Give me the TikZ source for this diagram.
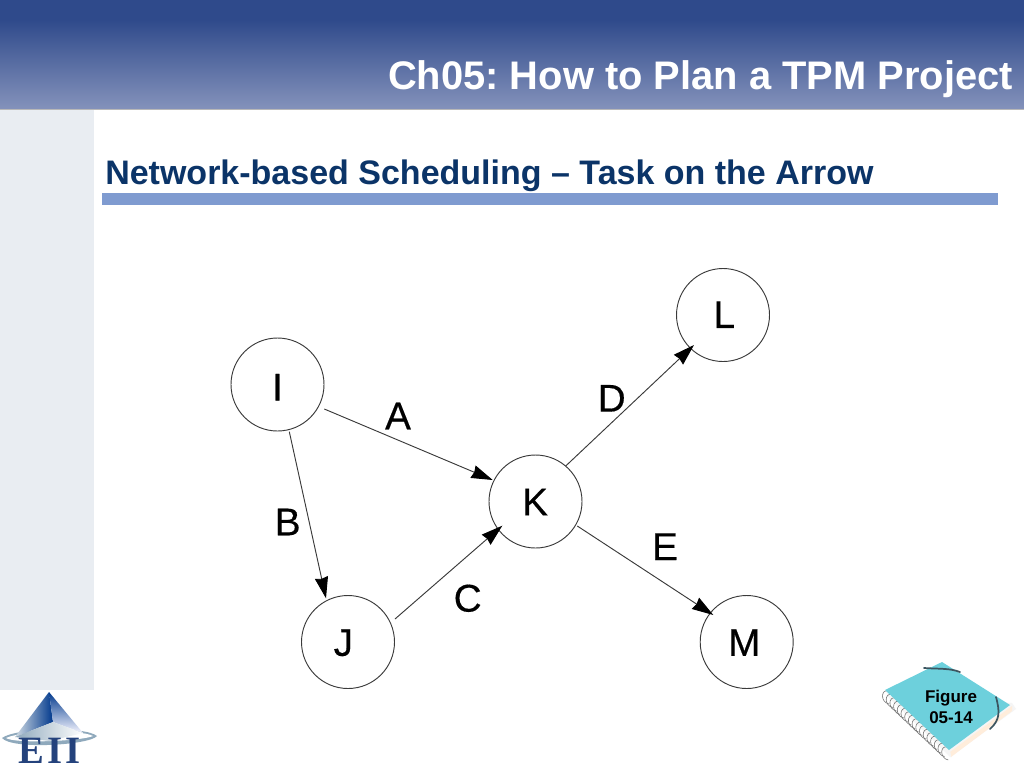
\documentclass[tikz,border=0pt]{standalone}
\usepackage{fontspec}
\setmainfont{Liberation Sans}
\newfontfamily\logoserif{Liberation Serif}
\newfontfamily\diagfont[FakeBold=0.35]{Liberation Sans}
\usetikzlibrary{arrows.meta,calc}
\frenchspacing
\definecolor{headtop}{HTML}{2F4A8B}
\definecolor{headbot}{HTML}{8492BB}
\definecolor{panel}{HTML}{E9EDF2}
\definecolor{rulebar}{HTML}{7F9BD0}
\definecolor{subtitlec}{HTML}{0B3468}
\definecolor{lineg}{HTML}{3A3A3A}
\definecolor{cover}{HTML}{6DD0DC}
\definecolor{logoblue}{HTML}{24427C}
\definecolor{bandc}{HTML}{3C5560}
\definecolor{ringc}{HTML}{8FA9BC}
\newcommand{\lett}[3]{\raisebox{\dimexpr#2-10.4pt\relax}[0pt][0pt]{\makebox[0pt]{\hspace*{\dimexpr 2\dimexpr#1\relax\relax}#3}}}
\tikzset{
  state/.style={circle,draw=lineg,line width=0.7pt,fill=white,minimum size=69.75pt,inner sep=0pt,font=\diagfont\fontsize{29}{29}\selectfont,text=black},
  edgelabel/.style={inner sep=0pt,font=\diagfont\fontsize{29}{29}\selectfont,text=black},
  arr/.style={draw=lineg,line width=0.7pt,-{Stealth[length=16pt,width=10pt,inset=1pt,color=black]}},
  band/.style={draw=bandc,line width=1.3pt,line cap=round},
  coil/.style={draw=black!55,line width=0.45pt}
}
\begin{document}
\begin{tikzpicture}[x=0.75pt,y=-0.75pt]
\useasboundingbox (0,0) rectangle (1024,768);
\fill[white] (0,0) rectangle (1024,768);
% header
\fill[headtop] (0,0) rectangle (1024,20);
\shade[top color=headtop,bottom color=headbot] (0,19.5) rectangle (1024,109);
\fill[black!28] (0,108.5) rectangle (1024,110);
\fill[panel] (0,110) rectangle (94,690);
\fill[rulebar] (102,193) rectangle (998,205);
\node[anchor=base east,inner sep=0pt,text=white,font=\bfseries\fontsize{29.9}{29.9}\selectfont] (title) at (1013,89) {Ch05: How to Plan a TPM Project};
\node[anchor=base west,inner sep=0pt,text=subtitlec,font=\bfseries\fontsize{25.5}{25.5}\selectfont] (subtitle) at (105,184) {Network-based Scheduling -- Task on the Arrow};
% states
\node[state] (I) at (277.5,384.5) {\lett{0pt}{-1.6pt}{I}};
\node[state] (J) at (348,642) {\lett{-3.5pt}{0pt}{J}};
\node[state] (K) at (535.5,501.5) {\lett{-0.3pt}{0pt}{K}};
\node[state] (L) at (723,315) {\lett{1pt}{0.7pt}{L}};
\node[state] (M) at (746.7,642) {\lett{-1.8pt}{0pt}{M}};
% connectors
\draw[arr] ($(I)+(46.8,24.5)$) -- ($(K)+(-42.8,-21.5)$);
\draw[arr] ($(I)+(11.8,47.2)$) -- ($(J)+(-22,-43.7)$);
\draw[arr] ($(J)+(47,-23)$) -- ($(K)+(-33.2,24.2)$);
\draw[arr] ($(K)+(30.2,-35.5)$) -- ($(L)+(-29,30)$);
\draw[arr] ($(K)+(41.8,24.5)$) -- ($(M)+(-33.4,-27)$);
% edge labels
\node[edgelabel] (la) at (398,416) {A};
\node[edgelabel] (lb) at (287.7,522) {B};
\node[edgelabel] (lc) at (467.7,598.3) {C};
\node[edgelabel] (ld) at (611.7,398.3) {D};
\node[edgelabel] (le) at (665,546.7) {E};
% logo
\fill[ringc] (2,738) .. controls (15,728) and (85,726) .. (97,736) .. controls (90,745) and (12,750) .. (2,738) -- cycle;
\fill[white] (6,738) .. controls (20,731) and (80,729) .. (93,736) .. controls (82,741) and (15,744) .. (6,738) -- cycle;
\shade[left color=ringc!40!white,right color=blue!60!cyan!55!black] (49,692) -- (15,737) -- (53,722) -- cycle;
\shade[top color=blue!60!cyan!55!black,bottom color=blue!4!white] (49,692) -- (53,722) -- (83,733) -- cycle;
\shade[left color=ringc,right color=white] (15,737) -- (53,722) -- (83,733) -- (50,741) -- cycle;
\node[anchor=base,inner sep=0pt,text=logoblue,font=\logoserif\bfseries\fontsize{29}{29}\selectfont] (logo) at (49.5,763) {E\kern2.5pt I\kern2pt I};
% notebook
\fill[black!4] (889,696) -- (950,757) -- (1016,709) -- (1012,703) -- cycle;
\fill[orange!14!white] (950,752) -- (1012,706) -- (1012,711) -- (951,757) -- cycle;
\fill[white!96!black] (886,692) -- (950,750) -- (951,757) -- (889,698) -- cycle;
\foreach \t in {0,1,...,16}{
  \pgfmathsetmacro{\px}{886+\t*3.7}
  \pgfmathsetmacro{\py}{690+\t*3.5}
  \draw[coil] (\px+2,\py+1) .. controls (\px-5,\py-1) and (\px-6,\py+12) .. (\px+3,\py+14);
}
\fill[cover] (885,690) -- (942,662) -- (1010,705) -- (949,750) -- cycle;
\draw[band] (924,668) .. controls (938,669) and (950,668) .. (960,672);
\draw[band] (996,697) .. controls (1000,712) and (1000,720) .. (990,729);
\node[inner sep=0pt,align=center,text=black,font=\bfseries\fontsize{12.75}{15.8}\selectfont] (fig) at (951,707) {Figure\\05-14};
\end{tikzpicture}
\end{document}
